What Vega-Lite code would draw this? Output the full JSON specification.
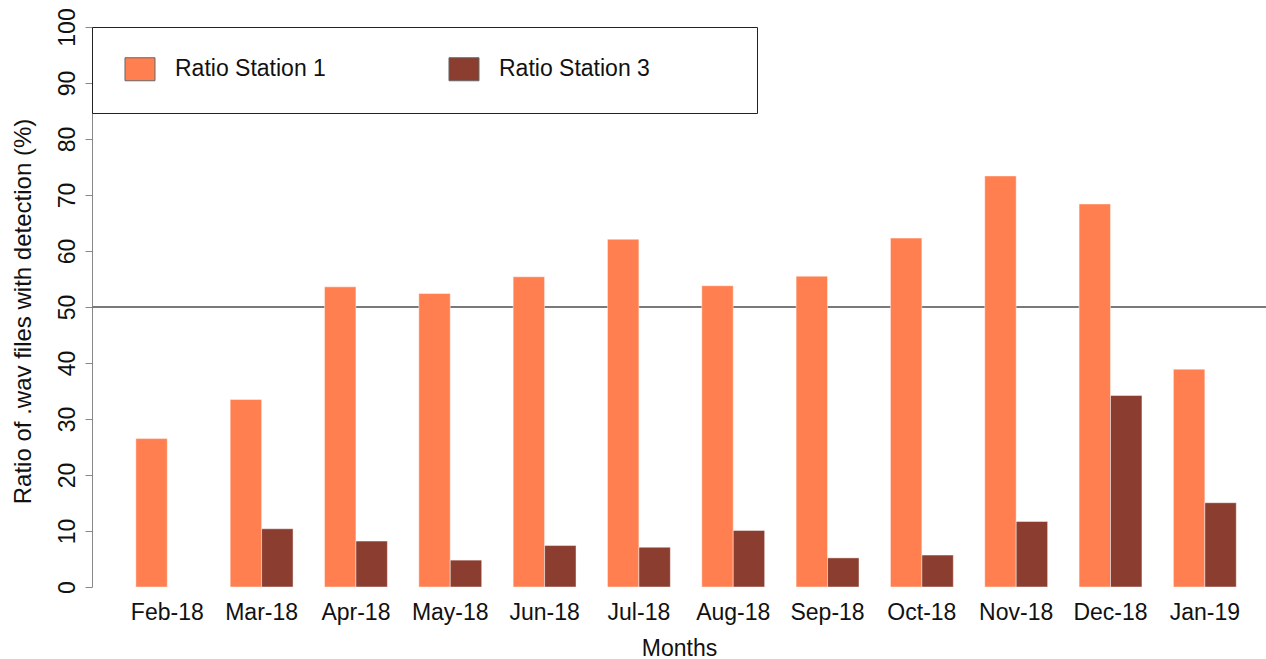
{
  "$schema": "https://vega.github.io/schema/vega-lite/v6.json",
  "width": 1174,
  "height": 560,
  "autosize": {"type": "none"},
  "padding": {"left": 92, "top": 27, "right": 0, "bottom": 72},
  "background": "#ffffff",
  "config": {"view": {"stroke": null}, "font": "Liberation Sans"},
  "data": {
    "values": [
      {"month": "Feb-18", "series": "Ratio Station 1", "value": 26.5},
      {"month": "Mar-18", "series": "Ratio Station 1", "value": 33.5},
      {"month": "Mar-18", "series": "Ratio Station 3", "value": 10.4},
      {"month": "Apr-18", "series": "Ratio Station 1", "value": 53.6},
      {"month": "Apr-18", "series": "Ratio Station 3", "value": 8.2},
      {"month": "May-18", "series": "Ratio Station 1", "value": 52.4},
      {"month": "May-18", "series": "Ratio Station 3", "value": 4.8},
      {"month": "Jun-18", "series": "Ratio Station 1", "value": 55.4},
      {"month": "Jun-18", "series": "Ratio Station 3", "value": 7.4},
      {"month": "Jul-18", "series": "Ratio Station 1", "value": 62.1},
      {"month": "Jul-18", "series": "Ratio Station 3", "value": 7.1},
      {"month": "Aug-18", "series": "Ratio Station 1", "value": 53.8},
      {"month": "Aug-18", "series": "Ratio Station 3", "value": 10.1},
      {"month": "Sep-18", "series": "Ratio Station 1", "value": 55.5},
      {"month": "Sep-18", "series": "Ratio Station 3", "value": 5.2},
      {"month": "Oct-18", "series": "Ratio Station 1", "value": 62.3},
      {"month": "Oct-18", "series": "Ratio Station 3", "value": 5.7},
      {"month": "Nov-18", "series": "Ratio Station 1", "value": 73.4},
      {"month": "Nov-18", "series": "Ratio Station 3", "value": 11.7},
      {"month": "Dec-18", "series": "Ratio Station 1", "value": 68.4},
      {"month": "Dec-18", "series": "Ratio Station 3", "value": 34.2},
      {"month": "Jan-19", "series": "Ratio Station 1", "value": 38.9},
      {"month": "Jan-19", "series": "Ratio Station 3", "value": 15.05}
    ]
  },
  "layer": [
    {
      "mark": {"type": "rule", "color": "#7a7a7a", "strokeWidth": 1.3},
      "encoding": {
        "y": {"datum": 50, "type": "quantitative", "title": "Ratio of .wav files with detection (%)"}
      }
    },
    {
      "mark": {"type": "bar", "stroke": "#ffffff", "strokeOpacity": 0.45, "strokeWidth": 1},
      "encoding": {
        "x": {
          "field": "month",
          "type": "nominal",
          "sort": ["Feb-18", "Mar-18", "Apr-18", "May-18", "Jun-18", "Jul-18", "Aug-18", "Sep-18", "Oct-18", "Nov-18", "Dec-18", "Jan-19"],
          "scale": {"paddingInner": 0.3333, "paddingOuter": 0.39, "align": 0.596},
          "axis": {
            "title": "Months",
            "domain": false,
            "ticks": false,
            "tickSize": 0,
            "labelAngle": 0,
            "labelFontSize": 23,
            "labelColor": "#111111",
            "labelPadding": 14,
            "titleFontSize": 23,
            "titleFontWeight": "normal",
            "titleColor": "#111111",
            "titlePadding": 13
          }
        },
        "xOffset": {
          "field": "series",
          "type": "nominal",
          "scale": {"paddingInner": 0, "paddingOuter": 0}
        },
        "y": {
          "field": "value",
          "type": "quantitative",
          "scale": {"domain": [0, 100], "nice": false},
          "axis": {
            "title": "Ratio of .wav files with detection (%)",
            "values": [0, 10, 20, 30, 40, 50, 60, 70, 80, 90, 100],
            "grid": false,
            "domainColor": "#888888",
            "tickColor": "#888888",
            "tickSize": 7,
            "labelAngle": 270,
            "labelAlign": "center",
            "labelBaseline": "alphabetic",
            "labelPadding": 11,
            "labelFontSize": 23,
            "labelColor": "#111111",
            "titleFontSize": 24,
            "titleFontWeight": "normal",
            "titleColor": "#111111",
            "titleAngle": 270,
            "titleAlign": "center",
            "titleBaseline": "alphabetic",
            "titleX": -62,
            "titleY": 284
          }
        },
        "color": {
          "field": "series",
          "type": "nominal",
          "scale": {"domain": ["Ratio Station 1", "Ratio Station 3"], "range": ["#FF7F50", "#8B3E2F"]},
          "legend": {
            "orient": "none",
            "legendX": 0,
            "legendY": 0,
            "direction": "horizontal",
            "columns": 2,
            "title": null,
            "symbolType": "M-0.783,-1L1.826,-1L1.826,1L-0.783,1Z",
            "symbolSize": 529,
            "symbolStrokeColor": "#666666",
            "symbolStrokeWidth": 1,
            "symbolOpacity": 1,
            "labelFontSize": 23,
            "labelColor": "#111111",
            "labelOffset": 29,
            "labelLimit": 400,
            "columnPadding": 120,
            "padding": 30,
            "strokeColor": "#222222",
            "fillColor": "#ffffff",
            "labelExpr": "datum.label == 'Ratio Station 3' ? datum.label + '\u00a0\u00a0\u00a0\u00a0\u00a0\u00a0\u00a0\u00a0\u00a0\u00a0\u00a0\u00a0\u200b' : datum.label"
          }
        }
      }
    }
  ]
}
